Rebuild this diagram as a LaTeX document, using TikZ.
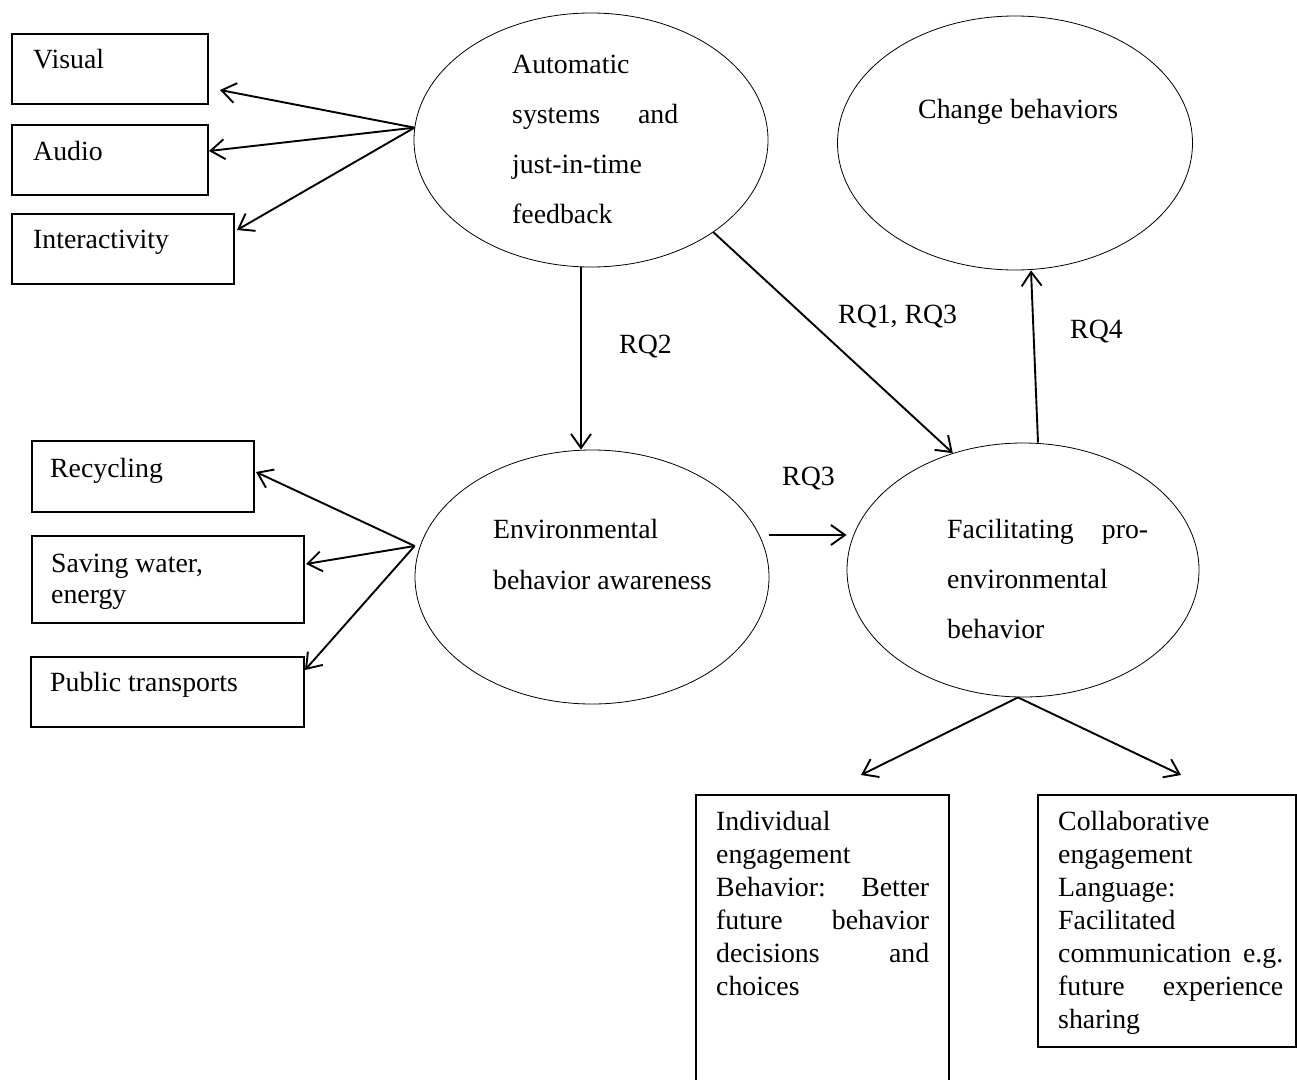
\documentclass[tikz,border=0pt]{standalone}
\usepackage{fontspec}
\setmainfont{Liberation Serif}
\usetikzlibrary{arrows.meta,shapes.geometric,calc}

% A block of lines whose baseline is that of its first line.
% #1 line width, #2 line spacing, #3 lines separated by \par
\newcommand{\txtblock}[3]{\vtop{\hsize=#1\relax\parindent=0pt\parskip=0pt
  \parfillskip=0pt plus 1fil\fontsize{27.8pt}{#2}\selectfont #3}}

\begin{document}
\begin{tikzpicture}[x=1pt,y=-1pt,
  ell/.style={draw, ellipse, line width=0.8pt, inner sep=0pt,
    minimum width=354pt, minimum height=254pt},
  box/.style={draw, rectangle, line width=2pt, inner sep=0pt, anchor=north west},
  txt/.style={inner sep=0pt, anchor=base west},
  arr/.style={line width=1.9pt,
    -{Straight Barb[length=14pt,width=20pt,line width=1.9pt]}},
  rq/.style={inner sep=0pt, anchor=base west, font=\fontsize{27.8pt}{33pt}\selectfont}]

\useasboundingbox (0,0) rectangle (1297,1079);

% ---- concept ellipses
\node[ell] (auto) at (591,140) {};
\node[ell, minimum width=355pt] (change) at (1015,143) {};
\node[ell] (env) at (592,577) {};
\node[ell, minimum width=352pt] (facil) at (1023,570) {};

\node[txt] (tauto) at ([xshift=-79pt,yshift=67pt]auto.center)
  {\txtblock{166pt}{50pt}{Automatic\par systems\hfill and\par just-in-time\par feedback}};
\node[txt] (tchange) at ([xshift=-97pt,yshift=25pt]change.center)
  {\txtblock{260pt}{50pt}{Change behaviors}};
\node[txt] (tenv) at ([xshift=-99pt,yshift=39pt]env.center)
  {\txtblock{240pt}{51pt}{Environmental\par behavior awareness}};
\node[txt] (tfacil) at ([xshift=-76pt,yshift=32pt]facil.center)
  {\txtblock{201pt}{50pt}{Facilitating\hfill pro-\par environmental\par behavior}};

% ---- feedback modality boxes
\node[box, minimum width=196pt, minimum height=70pt] (visual) at (11,33) {};
\node[box, minimum width=196pt, minimum height=70pt] (audio) at (11,124) {};
\node[box, minimum width=222pt, minimum height=70pt] (inter) at (11,213) {};
\node[txt] (tvisual) at ([xshift=22pt,yshift=-35pt]visual.north west)
  {\txtblock{180pt}{33pt}{Visual}};
\node[txt] (taudio) at ([xshift=22pt,yshift=-36pt]audio.north west)
  {\txtblock{180pt}{33pt}{Audio}};
\node[txt] (tinter) at ([xshift=22pt,yshift=-35pt]inter.north west)
  {\txtblock{200pt}{33pt}{Interactivity}};

% ---- behaviour boxes
\node[box, minimum width=222pt, minimum height=71pt] (recyc) at (31,440) {};
\node[box, minimum width=272pt, minimum height=87pt] (saving) at (31,535) {};
\node[box, minimum width=273pt, minimum height=70pt] (public) at (30,656) {};
\node[txt] (trecyc) at ([xshift=19pt,yshift=-37pt]recyc.north west)
  {\txtblock{200pt}{33pt}{Recycling}};
\node[txt] (tsaving) at ([xshift=20pt,yshift=-37pt]saving.north west)
  {\txtblock{240pt}{31pt}{Saving water,\par energy}};
\node[txt] (tpublic) at ([xshift=20pt,yshift=-35pt]public.north west)
  {\txtblock{240pt}{33pt}{Public transports}};

% ---- engagement boxes
\node[box, minimum width=253pt, minimum height=300pt] (indiv) at (695,794) {};
\node[box, minimum width=258pt, minimum height=252pt] (collab) at (1037,794) {};
\node[txt] (tindiv) at ([xshift=21pt,yshift=-36pt]indiv.north west)
  {\txtblock{213pt}{33pt}{Individual\par engagement\par Behavior:\hfill Better\par
   future\hfill behavior\par decisions\hfill and\par choices}};
\node[txt] (tcollab) at ([xshift=21pt,yshift=-36pt]collab.north west)
  {\txtblock{225pt}{33pt}{Collaborative\par engagement\par Language:\par Facilitated\par
   communication\hfill e.g.\par future\hfill experience\par sharing}};

% ---- connectors
\draw[arr] (auto.176) -- ([xshift=11pt,yshift=-21pt]visual.east);
\draw[arr] (auto.176) -- ([yshift=9pt]audio.east);
\draw[arr] (auto.176) -- ([xshift=2pt,yshift=19pt]inter.east);

\draw[arr] ([yshift=31pt]env.west) -- ([xshift=1pt,yshift=4.5pt]recyc.east);
\draw[arr] ([yshift=31pt]env.west) -- ([xshift=1pt,yshift=15.5pt]saving.east);
\draw[arr] ([yshift=31pt]env.west) -- ([yshift=22pt]public.east);

\draw[arr] ([xshift=-10pt]auto.south) -- ([xshift=-10pt]auto.south |- env.north);
\draw[arr] (auto.-37) -- (facil.121);
\draw[arr] ([yshift=42pt]env.east) -- ([yshift=42pt]env.east -| facil.west);
\draw[arr] ([xshift=15pt]facil.north) -- ([xshift=16pt]change.south);

\draw[arr] ([xshift=-5pt]facil.south) -- ([xshift=38.5pt,yshift=19pt]indiv.north);
\draw[arr] ([xshift=-5pt]facil.south) -- ([xshift=14pt,yshift=19pt]collab.north);

% ---- research question labels
\node[rq] (rq2) at (619,353) {RQ2};
\node[rq] (rq13) at (838,323) {RQ1, RQ3};
\node[rq] (rq4) at (1070,338) {RQ4};
\node[rq] (rq3) at (782,485) {RQ3};
\end{tikzpicture}
\end{document}
